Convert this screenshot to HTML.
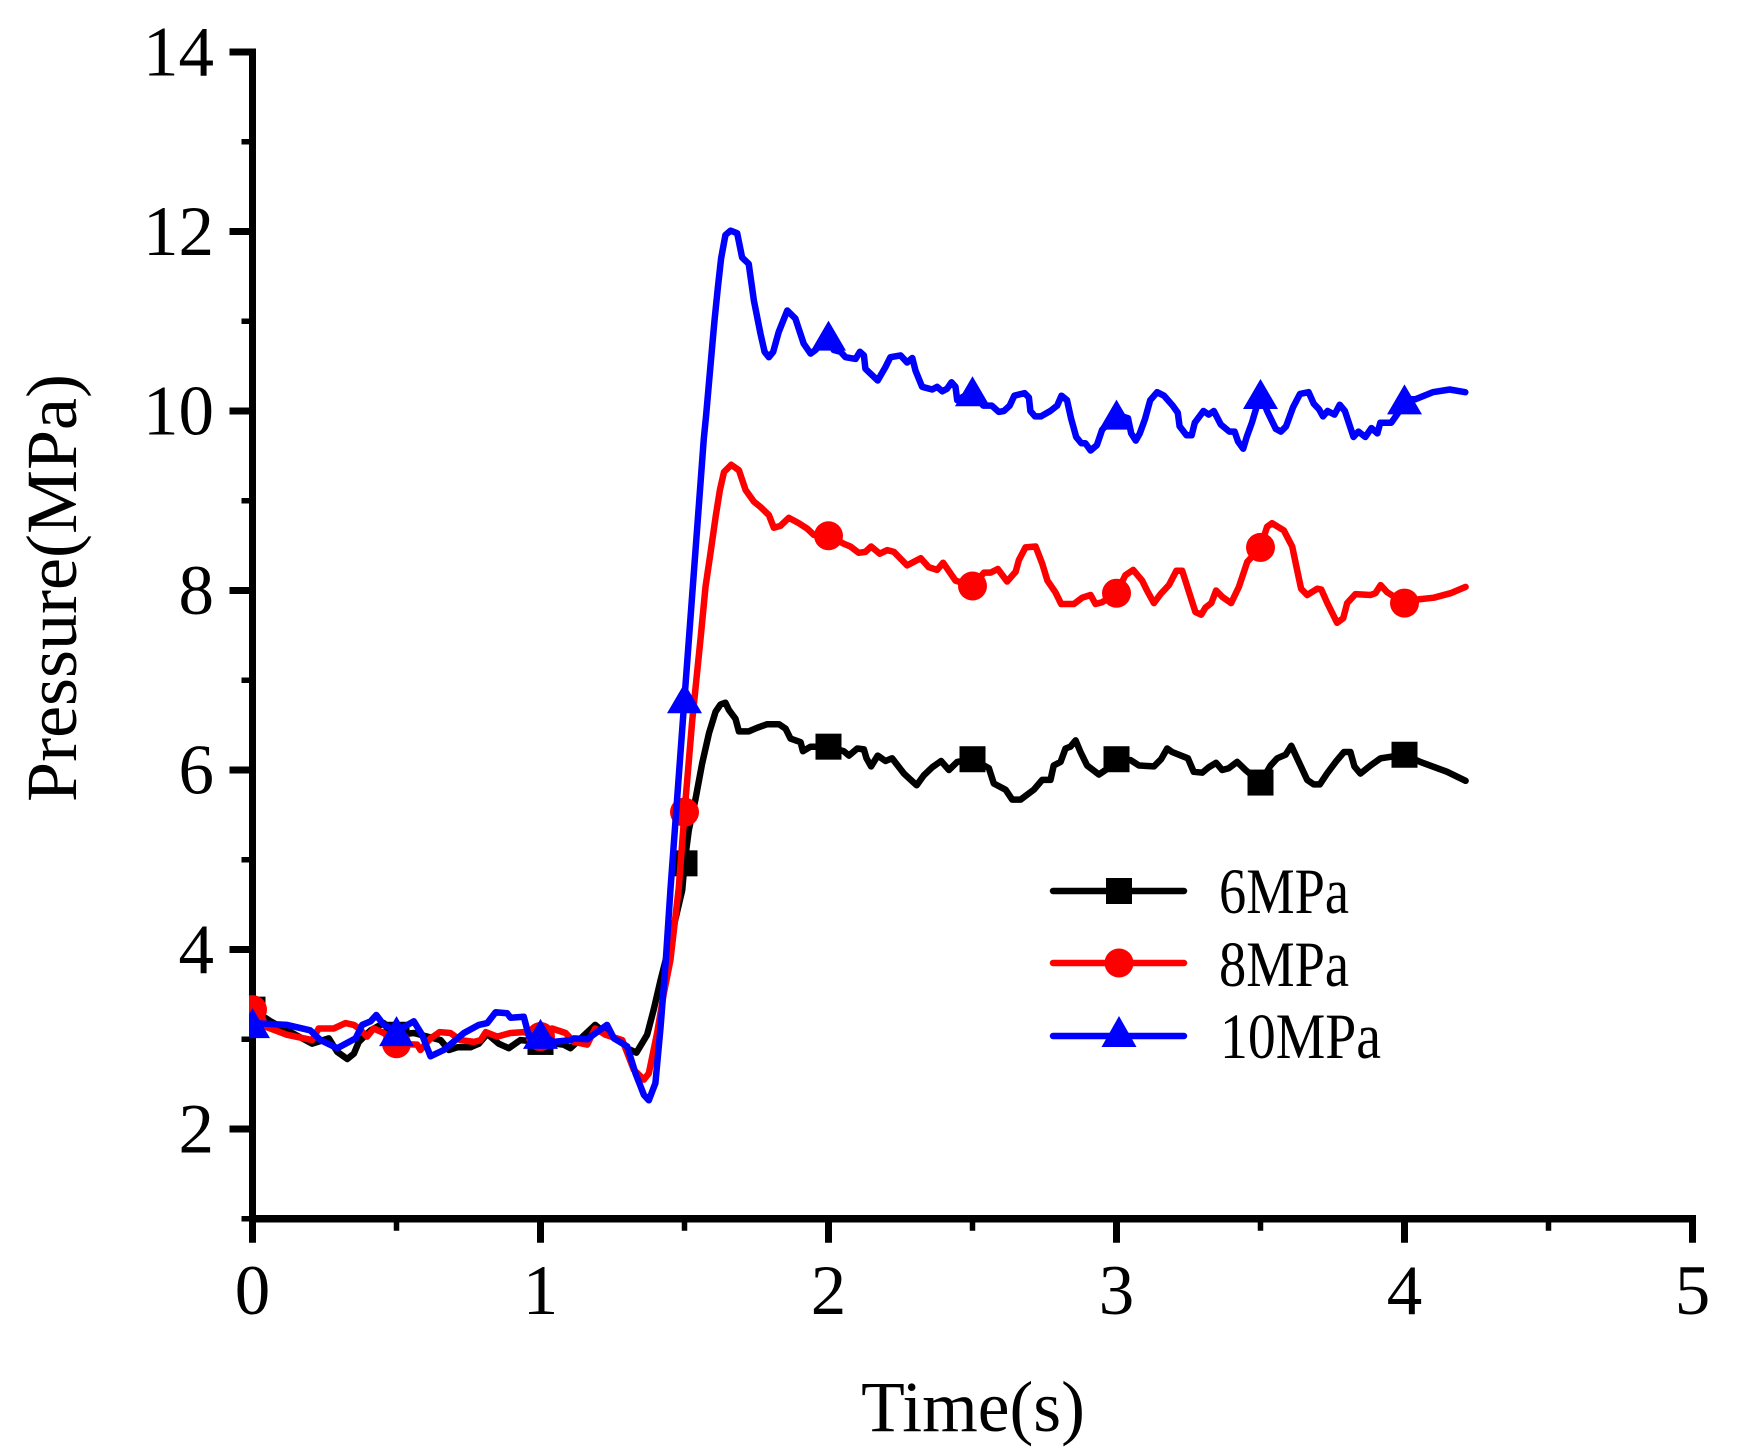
<!DOCTYPE html>
<html lang="en">
<head>
<meta charset="utf-8">
<title>Pressure vs Time</title>
<style>
html,body{margin:0;padding:0;background:#fff;}
svg{display:block;}
text{font-family:"Liberation Serif",serif;fill:#000;}
</style>
</head>
<body>
<svg id="chart" xmlns="http://www.w3.org/2000/svg" width="1752" height="1455" viewBox="0 0 1752 1455">
  <defs>
    <clipPath id="plot-clip"><rect x="249" y="0" width="1503" height="1455"/></clipPath>
  </defs>
  <rect x="0" y="0" width="1752" height="1455" fill="#fff"/>
  <g id="axes"></g>
  <g id="series" clip-path="url(#plot-clip)"></g>
  <text transform="translate(76,588) rotate(-90)" text-anchor="middle" font-size="72">Pressure(MPa)</text>
  <text x="973" y="1431" text-anchor="middle" font-size="71.5">Time(s)</text>
  <g>
    <g>
      <line x1="1053" y1="891" x2="1184" y2="891" stroke="#000" stroke-width="6.5" stroke-linecap="round"/>
      <rect x="1106" y="878" width="26" height="26" fill="#000"/>
      <text x="1219" y="913" font-size="65" textLength="130" lengthAdjust="spacingAndGlyphs">6MPa</text>
    </g>
    <g>
      <line x1="1053" y1="963" x2="1184" y2="963" stroke="#f00" stroke-width="6.5" stroke-linecap="round"/>
      <circle cx="1119" cy="963" r="14.5" fill="#f00"/>
      <text x="1219" y="986" font-size="65" textLength="130" lengthAdjust="spacingAndGlyphs">8MPa</text>
    </g>
    <g>
      <line x1="1053" y1="1036" x2="1184" y2="1036" stroke="#00f" stroke-width="6.5" stroke-linecap="round"/>
      <polygon points="1119,1016 1136.5,1047 1101.5,1047" fill="#00f"/>
      <text x="1220" y="1058" font-size="65" textLength="161" lengthAdjust="spacingAndGlyphs">10MPa</text>
    </g>
  </g>
</svg>
<script>
const xTickLabels = ["0","1","2","3","4","5"];
const xTickValues = [0,1,2,3,4,5];
const xMinorValues = [0.5,1.5,2.5,3.5,4.5];
const yTickLabels = ["2","4","6","8","10","12","14"];
const yTickValues = [2,4,6,8,10,12,14];
const yMinorValues = [1,3,5,7,9,11,13];
const markerTimes = [0,0.5,1,1.5,2,2.5,3,3.5,4];

const time6 = [0,.063,.207,.265,.294,.329,.352,.369,.41,.456,.5,.56,.653,.682,.711,.757,.786,.815,.855,.89,.93,1,1.08,1.104,1.14,1.19,1.231,1.278,1.3,1.333,1.37,1.393,1.417,1.44,1.492,1.5,1.515,1.538,1.561,1.585,1.608,1.625,1.642,1.654,1.677,1.689,1.723,1.752,1.787,1.828,1.851,1.868,1.903,1.911,1.938,2,2.053,2.071,2.1,2.123,2.132,2.148,2.171,2.198,2.221,2.262,2.306,2.331,2.36,2.391,2.418,2.447,2.5,2.557,2.574,2.615,2.638,2.667,2.713,2.742,2.771,2.782,2.806,2.823,2.84,2.858,2.875,2.898,2.939,2.962,3,3.049,3.078,3.13,3.155,3.176,3.193,3.248,3.268,3.298,3.32,3.346,3.367,3.39,3.419,3.448,3.5,3.535,3.558,3.587,3.607,3.627,3.662,3.685,3.706,3.731,3.761,3.79,3.812,3.826,3.847,3.882,3.917,4,4.055,4.148,4.212];
const pressure6 = [3.33,3.2,2.95,3.01,2.86,2.78,2.84,2.97,3.1,3.18,3.05,3.07,2.99,2.88,2.91,2.91,2.95,3.06,2.95,2.9,2.99,2.97,2.94,2.9,3.01,3.16,3.05,2.99,2.9,2.85,3.05,3.33,3.66,3.95,4.66,4.96,5.33,5.67,6.07,6.41,6.65,6.73,6.75,6.67,6.57,6.43,6.43,6.47,6.51,6.51,6.46,6.35,6.31,6.21,6.26,6.26,6.21,6.16,6.24,6.23,6.13,6.04,6.16,6.1,6.13,5.96,5.83,5.94,6.03,6.1,6,6.09,6.12,6.02,5.85,5.78,5.67,5.67,5.78,5.89,5.89,6.05,6.09,6.24,6.26,6.33,6.2,6.05,5.95,6,6.12,6.11,6.05,6.04,6.12,6.24,6.2,6.13,5.98,5.97,6.03,6.08,6,6.02,6.09,6,5.86,6.05,6.13,6.17,6.27,6.13,5.89,5.84,5.84,5.96,6.09,6.2,6.2,6.04,5.96,6.05,6.13,6.17,6.09,5.98,5.88];

const time8 = [0,.028,.045,.12,.207,.23,.282,.323,.352,.369,.398,.421,.456,.5,.572,.583,.618,.65,.687,.722,.769,.792,.81,.85,.896,.942,1,1.04,1.087,1.116,1.162,1.19,1.226,1.284,1.324,1.359,1.376,1.405,1.428,1.451,1.48,1.5,1.527,1.556,1.573,1.59,1.608,1.623,1.637,1.662,1.689,1.712,1.741,1.764,1.793,1.81,1.833,1.862,1.897,1.926,1.949,2,2.053,2.076,2.105,2.128,2.148,2.178,2.204,2.227,2.273,2.32,2.348,2.377,2.398,2.441,2.5,2.54,2.563,2.588,2.62,2.65,2.661,2.684,2.719,2.742,2.76,2.788,2.808,2.852,2.881,2.91,2.927,2.95,3,3.031,3.058,3.089,3.106,3.13,3.153,3.182,3.208,3.228,3.257,3.274,3.294,3.309,3.329,3.346,3.367,3.398,3.425,3.454,3.5,3.523,3.54,3.581,3.61,3.627,3.641,3.662,3.697,3.711,3.732,3.766,3.787,3.801,3.83,3.882,3.899,3.917,3.94,4,4.044,4.102,4.16,4.212];
const pressure8 = [3.33,3.3,3.14,3.05,2.99,3.12,3.12,3.18,3.16,3.12,3.03,3.12,3.07,2.95,2.94,2.88,3.01,3.08,3.07,2.99,2.97,2.99,3.08,3.03,3.07,3.08,3.03,3.12,3.07,2.97,2.94,3.12,3.05,2.99,2.66,2.55,2.62,3.07,3.51,3.88,4.68,5.53,6.56,7.47,8.04,8.41,8.82,9.12,9.32,9.4,9.34,9.12,8.99,8.93,8.84,8.7,8.72,8.81,8.75,8.69,8.62,8.61,8.52,8.49,8.42,8.43,8.49,8.41,8.45,8.43,8.28,8.36,8.26,8.23,8.31,8.11,8.05,8.2,8.2,8.24,8.1,8.21,8.34,8.48,8.49,8.3,8.11,7.98,7.85,7.85,7.92,7.95,7.85,7.87,7.97,8.17,8.23,8.11,8,7.86,7.96,8.06,8.22,8.22,7.93,7.76,7.73,7.81,7.86,8,7.93,7.86,8.04,8.32,8.48,8.71,8.75,8.67,8.49,8.23,8.02,7.95,8.02,8.01,7.86,7.64,7.69,7.86,7.96,7.95,7.97,8.06,7.98,7.86,7.9,7.92,7.97,8.04];

const time10 = [0,.12,.2,.236,.294,.358,.381,.41,.43,.456,.5,.56,.589,.618,.664,.734,.786,.815,.844,.884,.896,.942,.96,1,1.046,1.104,1.116,1.162,1.231,1.255,1.301,1.33,1.359,1.376,1.399,1.417,1.435,1.451,1.5,1.567,1.575,1.588,1.6,1.605,1.616,1.627,1.642,1.66,1.683,1.7,1.723,1.741,1.764,1.778,1.793,1.808,1.827,1.857,1.885,1.914,1.938,1.955,2,2.018,2.042,2.059,2.094,2.109,2.123,2.128,2.171,2.198,2.215,2.25,2.273,2.291,2.302,2.325,2.36,2.377,2.395,2.412,2.427,2.441,2.447,2.5,2.537,2.567,2.591,2.609,2.629,2.645,2.681,2.696,2.701,2.717,2.737,2.77,2.794,2.809,2.828,2.842,2.86,2.878,2.892,2.91,2.932,2.95,3,3.04,3.051,3.067,3.081,3.099,3.117,3.141,3.165,3.195,3.213,3.219,3.243,3.261,3.272,3.302,3.32,3.338,3.362,3.392,3.41,3.422,3.44,3.452,3.47,3.5,3.523,3.553,3.571,3.589,3.613,3.637,3.667,3.685,3.703,3.717,3.733,3.757,3.775,3.793,3.823,3.84,3.864,3.885,3.906,3.916,3.954,3.978,4,4.038,4.098,4.157,4.211];
const pressure10 = [3.18,3.16,3.1,2.99,2.9,3.01,3.16,3.2,3.27,3.16,3.09,3.2,3.05,2.81,2.88,3.07,3.16,3.18,3.3,3.29,3.24,3.25,3.03,3.06,2.97,2.99,3.01,3,3.16,3.01,2.92,2.62,2.38,2.32,2.51,3.14,3.88,4.66,6.8,9.69,9.95,10.42,10.86,11.03,11.38,11.7,11.96,12.01,11.98,11.71,11.64,11.23,10.86,10.66,10.6,10.66,10.88,11.12,11.03,10.75,10.64,10.68,10.84,10.68,10.66,10.6,10.58,10.66,10.62,10.47,10.34,10.49,10.6,10.62,10.54,10.59,10.45,10.27,10.24,10.27,10.22,10.25,10.32,10.27,10.12,10.22,10.06,10.06,9.99,10,10.06,10.17,10.2,10.15,10,9.94,9.94,10,10.06,10.17,10.12,9.92,9.71,9.64,9.64,9.56,9.62,9.79,9.96,9.92,9.75,9.67,9.75,9.91,10.12,10.21,10.17,10.06,9.98,9.83,9.73,9.73,9.87,10,9.96,10,9.85,9.77,9.77,9.66,9.58,9.71,9.87,10.19,10,9.8,9.77,9.83,10.04,10.19,10.21,10.08,10.02,9.94,10,9.96,10.07,10,9.71,9.77,9.71,9.81,9.75,9.87,9.87,9.98,10.13,10.13,10.21,10.24,10.21];

const NS = 'http://www.w3.org/2000/svg';
const axesLayer = document.getElementById('axes');
const seriesLayer = document.getElementById('series');

function xScale(t){ return 252.5 + 288 * t; }
function yScale(v){ return 52 + 89.75 * (14 - v); }

function makeLine(x1, y1, x2, y2, width){
  const l = document.createElementNS(NS, 'line');
  l.setAttribute('x1', x1);
  l.setAttribute('y1', y1);
  l.setAttribute('x2', x2);
  l.setAttribute('y2', y2);
  l.setAttribute('stroke', '#000');
  l.setAttribute('stroke-width', width);
  axesLayer.appendChild(l);
  return l;
}

const yAxisLine = makeLine(xScale(0), yScale(14) - 3.5, xScale(0), yScale(1) + 4, 7);


const xAxisLine = makeLine(xScale(0), yScale(1), xScale(5) + 3.5, yScale(1), 7.5);



yTickValues.forEach(function(v, i){
  const tick = makeLine(xScale(0) - 23, yScale(v), xScale(0), yScale(v), 7);
  
  
  const label = document.createElementNS(NS, 'text');
  
  
  label.setAttribute('x', 214);
  label.setAttribute('y', yScale(v) + 23.5);
  label.setAttribute('text-anchor', 'end');
  label.setAttribute('font-size', '71');
  label.textContent = yTickLabels[i];
  axesLayer.appendChild(label);
});
yMinorValues.forEach(function(v){
  const tick = makeLine(xScale(0) - 11, yScale(v), xScale(0), yScale(v), 5.5);
  
  
});
xTickValues.forEach(function(t, i){
  const tick = makeLine(xScale(t), yScale(1), xScale(t), yScale(1) + 24, 7);
  
  
  const label = document.createElementNS(NS, 'text');
  
  
  label.setAttribute('x', xScale(t));
  label.setAttribute('y', 1314);
  label.setAttribute('text-anchor', 'middle');
  label.setAttribute('font-size', '71');
  label.textContent = xTickLabels[i];
  axesLayer.appendChild(label);
});
xMinorValues.forEach(function(t){
  const tick = makeLine(xScale(t), yScale(1), xScale(t), yScale(1) + 12, 5.5);
  
  
});

function valueAt(times, values, t){
  for (let i = 0; i < times.length - 1; i++){
    if (t >= times[i] && t <= times[i + 1]){
      const f = (t - times[i]) / (times[i + 1] - times[i]);
      return values[i] + f * (values[i + 1] - values[i]);
    }
  }
  return values[values.length - 1];
}

function drawLine(times, values, color, name){
  const p = document.createElementNS(NS, 'polyline');
  
  
  p.setAttribute('points', times.map(function(t, i){ return xScale(t).toFixed(1) + ',' + yScale(values[i]).toFixed(1); }).join(' '));
  p.setAttribute('fill', 'none');
  p.setAttribute('stroke', color);
  p.setAttribute('stroke-width', '6.5');
  p.setAttribute('stroke-linejoin', 'round');
  p.setAttribute('stroke-linecap', 'round');
  seriesLayer.appendChild(p);
}

function drawSquare(cx, cy){
  const m = document.createElementNS(NS, 'rect');
  
  
  m.setAttribute('x', cx - 13);
  m.setAttribute('y', cy - 13);
  m.setAttribute('width', 26);
  m.setAttribute('height', 26);
  m.setAttribute('fill', '#000');
  seriesLayer.appendChild(m);
}
function drawCircle(cx, cy){
  const m = document.createElementNS(NS, 'circle');
  
  
  m.setAttribute('cx', cx);
  m.setAttribute('cy', cy);
  m.setAttribute('r', 14.5);
  m.setAttribute('fill', '#f00');
  seriesLayer.appendChild(m);
}
function drawTriangle(cx, cy){
  const m = document.createElementNS(NS, 'polygon');
  
  
  m.setAttribute('points', cx + ',' + (cy - 15) + ' ' + (cx + 17.5) + ',' + (cy + 15) + ' ' + (cx - 17.5) + ',' + (cy + 15));
  m.setAttribute('fill', '#00f');
  seriesLayer.appendChild(m);
}

drawLine(time6, pressure6, '#000', 'line-6mpa');
markerTimes.forEach(function(t){ drawSquare(xScale(t), yScale(valueAt(time6, pressure6, t))); });
drawLine(time8, pressure8, '#f00', 'line-8mpa');
markerTimes.forEach(function(t){ drawCircle(xScale(t), yScale(valueAt(time8, pressure8, t))); });
drawLine(time10, pressure10, '#00f', 'line-10mpa');
markerTimes.forEach(function(t){ drawTriangle(xScale(t), yScale(valueAt(time10, pressure10, t))); });
</script>
</body>
</html>
